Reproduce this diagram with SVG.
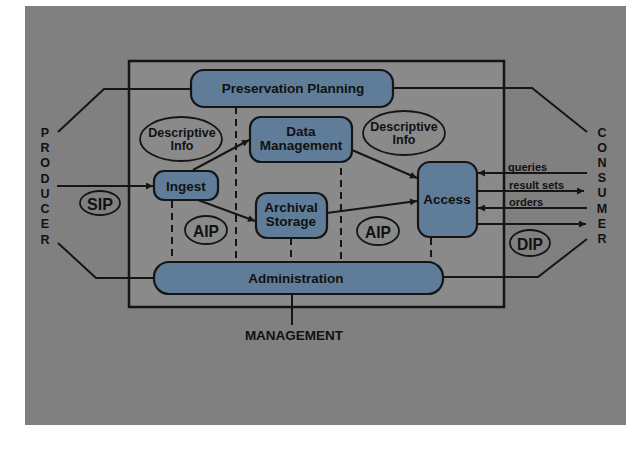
<svg xmlns="http://www.w3.org/2000/svg" width="634" height="451" viewBox="0 0 634 451">
<defs>
<style>
.node{fill:#5f7d98;stroke:#151515;stroke-width:2.2}
.oval{fill:none;stroke:#151515;stroke-width:1.8}
.ln{fill:none;stroke:#151515;stroke-width:2}
.dash{fill:none;stroke:#151515;stroke-width:2;stroke-dasharray:7 5}
.t{font-family:"Liberation Sans",Arial,sans-serif;font-weight:bold;fill:#111;text-anchor:middle;dominant-baseline:central}
.lab{font-size:13.5px}
.small{font-size:12.5px}
.big{font-size:17px}
.side{font-size:12.5px}
.arr{font-family:"Liberation Sans",Arial,sans-serif;font-weight:bold;font-size:11px;fill:#111}
</style>
<marker id="ah" viewBox="0 0 10 10" refX="10" refY="5" markerWidth="9" markerHeight="7" markerUnits="userSpaceOnUse" orient="auto">
<path d="M0,0 L10,5 L0,10 z" fill="#151515"/>
</marker>
</defs>
<rect x="0" y="0" width="634" height="451" fill="#ffffff"/>
<rect x="25" y="6" width="601" height="419" fill="#808080"/>
<rect id="system" x="129" y="61" width="375" height="246" fill="#8a8a8a" stroke="#151515" stroke-width="2.5"/>

<g id="connectors">
<path class="ln" d="M58,132 L104,89 L191,89"/>
<path class="ln" d="M393,88 L532,88 L587,132"/>
<path class="ln" d="M58,243 L96,278 L154,278"/>
<path class="ln" d="M443,277 L538,277 L587,239"/>
<path class="ln" d="M57,186 L153,186" marker-end="url(#ah)"/>
<path class="ln" d="M193,170 L249,140" marker-end="url(#ah)"/>
<path class="ln" d="M198,200 L255,221" marker-end="url(#ah)"/>
<path class="ln" d="M352,150 L417,178" marker-end="url(#ah)"/>
<path class="ln" d="M327,213 L417,201" marker-end="url(#ah)"/>
<path class="ln" d="M587,173 L478,173" marker-end="url(#ah)"/>
<path class="ln" d="M477,191 L584,191" marker-end="url(#ah)"/>
<path class="ln" d="M587,208 L478,208" marker-end="url(#ah)"/>
<path class="ln" d="M477,224 L586,224" marker-end="url(#ah)"/>
<path class="ln" d="M292,294 L292,325"/>
<path class="dash" d="M172,201 L172,262"/>
<path class="dash" d="M236,107 L236,262"/>
<path class="dash" d="M291,238 L291,262"/>
<path class="dash" d="M341,168 L341,262"/>
<path class="dash" d="M431,238 L431,262"/>
</g>

<g id="preservation-planning">
<rect class="node" x="191" y="70" width="202" height="37" rx="13"/>
<text class="t lab" x="293" y="88">Preservation Planning</text>
</g>
<g id="data-management">
<rect class="node" x="250" y="117" width="102" height="45" rx="11"/>
<text class="t lab" x="301" y="131">Data</text>
<text class="t lab" x="301" y="145">Management</text>
</g>
<g id="ingest">
<rect class="node" x="154" y="171" width="64" height="29" rx="10"/>
<text class="t lab" x="186" y="186">Ingest</text>
</g>
<g id="archival-storage">
<rect class="node" x="256" y="193" width="71" height="45" rx="11"/>
<text class="t lab" x="291" y="207">Archival</text>
<text class="t lab" x="291" y="221">Storage</text>
</g>
<g id="access">
<rect class="node" x="418" y="162" width="59" height="75" rx="12"/>
<text class="t lab" x="447" y="199">Access</text>
</g>
<g id="administration">
<rect class="node" x="154" y="262" width="289" height="32" rx="15"/>
<text class="t lab" x="296" y="278">Administration</text>
</g>

<g id="descriptive-info-1">
<ellipse class="oval" cx="181" cy="139" rx="41" ry="22"/>
<text class="t small" x="182" y="133">Descriptive</text>
<text class="t small" x="182" y="146">Info</text>
</g>
<g id="descriptive-info-2">
<ellipse class="oval" cx="404" cy="133" rx="41" ry="22"/>
<text class="t small" x="404" y="127">Descriptive</text>
<text class="t small" x="404" y="140">Info</text>
</g>
<g id="sip">
<ellipse class="oval" cx="100" cy="203" rx="20" ry="12"/>
<text class="t big" x="100" y="204" textLength="26" lengthAdjust="spacingAndGlyphs">SIP</text>
</g>
<g id="aip-1">
<ellipse class="oval" cx="206" cy="230" rx="21" ry="14"/>
<text class="t big" x="206" y="231" textLength="26" lengthAdjust="spacingAndGlyphs">AIP</text>
</g>
<g id="aip-2">
<ellipse class="oval" cx="378" cy="231" rx="21" ry="14"/>
<text class="t big" x="378" y="232" textLength="26" lengthAdjust="spacingAndGlyphs">AIP</text>
</g>
<g id="dip">
<ellipse class="oval" cx="530" cy="243" rx="20" ry="13"/>
<text class="t big" x="530" y="244" textLength="26" lengthAdjust="spacingAndGlyphs">DIP</text>
</g>

<g id="flow-labels">
<text class="arr" x="508" y="171">queries</text>
<text class="arr" x="509" y="189">result sets</text>
<text class="arr" x="509" y="206">orders</text>
</g>

<g id="producer">
<text class="t side" x="45" y="133">P</text>
<text class="t side" x="45" y="148">R</text>
<text class="t side" x="45" y="163">O</text>
<text class="t side" x="45" y="179">D</text>
<text class="t side" x="45" y="194">U</text>
<text class="t side" x="45" y="209">C</text>
<text class="t side" x="45" y="224">E</text>
<text class="t side" x="45" y="240">R</text>
</g>
<g id="consumer">
<text class="t side" x="602" y="133">C</text>
<text class="t side" x="602" y="148">O</text>
<text class="t side" x="602" y="163">N</text>
<text class="t side" x="602" y="178">S</text>
<text class="t side" x="602" y="193">U</text>
<text class="t side" x="602" y="209">M</text>
<text class="t side" x="602" y="224">E</text>
<text class="t side" x="602" y="239">R</text>
</g>
<g id="management">
<text class="t lab" x="294" y="335">MANAGEMENT</text>
</g>
</svg>
